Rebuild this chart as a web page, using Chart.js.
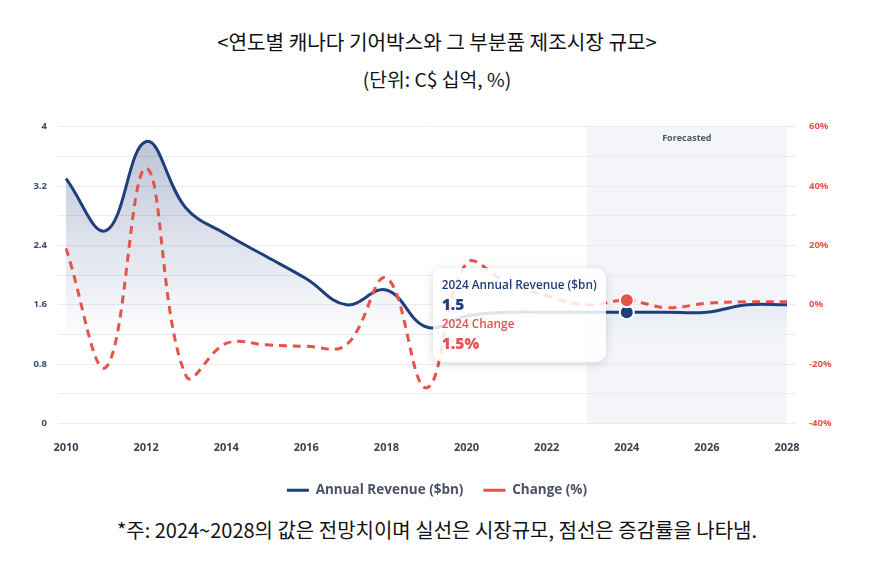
<!DOCTYPE html>
<html>
<head>
<meta charset="utf-8">
<script src="https://cdn.jsdelivr.net/npm/chart.js@4.4.1/dist/chart.umd.min.js"></script>
<style>
  body { margin: 0; background: #fff; width: 874px; height: 571px; overflow: hidden; position: relative; }
  .txt { position: absolute; left: 0; width: 874px; text-align: center; font-family: "Noto Sans CJK KR", sans-serif; color: #111; line-height: 24px; }
  #wrap { position: absolute; left: 0; top: 107px; width: 874px; height: 404px; }
  #tip { position: absolute; display: none; width: 173px; height: 94px; box-sizing: border-box; padding: 7px 0 0 9px;
         background: rgba(255,255,255,0.86); border-radius: 10px; box-shadow: 0 2px 10px rgba(40,50,80,0.18);
         font-family: "Open Sans", sans-serif; font-weight: 600; white-space: nowrap; }
  #tip div { line-height: 19.5px; }
  #tip .lab { font-size: 11.8px; }
  #tip .val { font-size: 15.5px; font-weight: 800; }
</style>
</head>
<body>
<div class="txt" style="top:30px;font-size:20.2px">&lt;연도별 캐나다 기어박스와 그 부분품 제조시장 규모&gt;</div>
<div class="txt" style="top:67px;font-size:19.3px">(단위: C$ 십억, %)</div>
<div id="wrap"><canvas id="grafica" width="874" height="404"></canvas><div id="tip"></div></div>
<div class="txt" style="top:518px;font-size:20px">*주: 2024~2028의 값은 전망치이며 실선은 시장규모, 점선은 증감률을 나타냄.</div>

<script>
"use strict"

// datos
const anios = ["2010", "2011", "2012", "2013", "2014", "2015", "2016", "2017", "2018", "2019",
    "2020", "2021", "2022", "2023", "2024", "2025", "2026", "2027", "2028"];
const ingresos = [3.3, 2.6, 3.8, 2.9, 2.55, 2.25, 1.95, 1.6, 1.8, 1.3,
    1.45, 1.5, 1.5, 1.5, 1.5, 1.5, 1.5, 1.6, 1.6];
const cambio = [19, -21, 46, -24, -13, -13.5, -14, -13.5, 9, -28,
    14, 7.5, 3, 0, 1.5, -1, 0.5, 1, 1];
const inicioPronostico = "2023";
const finPronostico = "2028";
const anioActivo = "2024";

const azul = "#1f3e7c";
const rojo = "#e5534b";
const fuente = "'Open Sans', sans-serif";

const zonaPronostico = {
    id: "zonaPronostico",
    beforeDraw(chart) {
        let ctx = chart.ctx;
        let area = chart.chartArea;
        let x1 = chart.scales.x.getPixelForValue(anios.indexOf(inicioPronostico));
        let x2 = chart.scales.x.getPixelForValue(anios.indexOf(finPronostico));
        ctx.save();
        ctx.fillStyle = "#f3f5f9";
        ctx.fillRect(x1, area.top, x2 - x1, area.bottom - area.top);
        ctx.fillStyle = "#4f566a";
        ctx.font = "bold 9px " + fuente;
        ctx.textAlign = "center";
        ctx.textBaseline = "middle";
        ctx.fillText("Forecasted", (x1 + x2) / 2, area.top + 12);
        ctx.restore();
    }
};

function tooltipExterno(context) {
    let tip = document.getElementById("tip");
    let model = context.tooltip;
    if (model.opacity === 0 || !model.dataPoints || !model.dataPoints.length) {
        tip.style.display = "none";
        return;
    }
    let html = "";
    model.dataPoints.slice().sort((a, b) => a.datasetIndex - b.datasetIndex).forEach(p => {
        let color = p.datasetIndex === 0 ? azul : rojo;
        let valor = p.datasetIndex === 0 ? p.raw : p.raw + "%";
        let nombre = p.datasetIndex === 0 ? "Annual Revenue ($bn)" : "Change";
        html += '<div class="lab" style="color:' + color + '">' + p.label + " " + nombre + "</div>";
        html += '<div class="val" style="color:' + color + '">' + valor + "</div>";
    });
    tip.innerHTML = html;
    tip.style.display = "block";
    let yRev = context.chart.scales.y.getPixelForValue(model.dataPoints.find(p => p.datasetIndex === 0).raw);
    tip.style.left = (model.caretX - 21 - 173) + "px";
    tip.style.top = (yRev + 3 - 47) + "px";
}

let ctx = document.getElementById("grafica").getContext("2d");

let grafica = new Chart(ctx, {
    type: "line",
    data: {
        labels: anios,
        datasets: [{
            label: "Annual Revenue ($bn)",
            data: ingresos,
            yAxisID: "y",
            borderColor: azul,
            borderWidth: 3,
            tension: 0.4,
            fill: "origin",
            order: 1,
            backgroundColor: function (c) {
                let area = c.chart.chartArea;
                if (!area) return "rgba(31,62,124,0.15)";
                let g = c.chart.ctx.createLinearGradient(0, area.top, 0, area.bottom);
                g.addColorStop(0, "rgba(31,62,124,0.32)");
                g.addColorStop(0.72, "rgba(31,62,124,0)");
                return g;
            },
            pointRadius: 0,
            pointHoverRadius: 7,
            pointHoverBackgroundColor: azul,
            pointHoverBorderColor: "#fff",
            pointHoverBorderWidth: 2
        }, {
            label: "Change (%)",
            data: cambio,
            yAxisID: "y2",
            borderColor: rojo,
            backgroundColor: rojo,
            borderWidth: 3,
            borderDash: [8, 6],
            tension: 0.4,
            fill: false,
            order: 0,
            pointRadius: 0,
            pointHoverRadius: 7,
            pointHoverBackgroundColor: rojo,
            pointHoverBorderColor: "#fff",
            pointHoverBorderWidth: 2
        }]
    },
    options: {
        responsive: false,
        animation: false,
        events: [],
        layout: { padding: { top: 12, bottom: 4, left: 0, right: 0 } },
        scales: {
            x: {
                grid: { display: false, drawTicks: false },
                border: { display: false },
                afterFit: s => { s.height = 40; },
                ticks: {
                    autoSkip: false,
                    maxRotation: 0,
                    padding: 18,
                    color: "#3a4152",
                    font: { family: fuente, size: 11, weight: "bold" },
                    callback: function (v, i) { return Number(anios[i]) % 2 === 0 ? anios[i] : ""; }
                }
            },
            y: {
                position: "left",
                min: 0,
                max: 4,
                afterFit: s => { s.width = 66; },
                grid: { color: "#ececef", tickLength: 8 },
                border: { display: false },
                ticks: {
                    stepSize: 0.4,
                    padding: 11,
                    color: "#3b4a75",
                    font: { family: fuente, size: 9.5, weight: "bold" },
                    callback: function (v, i) { return i % 2 === 0 ? String(Math.round(v * 10) / 10) : ""; }
                }
            },
            y2: {
                position: "right",
                min: -40,
                max: 60,
                afterFit: s => { s.width = 87; },
                grid: { drawOnChartArea: false, color: "#ececef", tickLength: 8 },
                border: { display: false },
                ticks: {
                    stepSize: 10,
                    padding: 14,
                    color: rojo,
                    font: { family: fuente, size: 9.5, weight: "bold" },
                    callback: function (v) { return Math.round(v) % 20 === 0 ? Math.round(v) + "%" : ""; }
                }
            }
        },
        plugins: {
            legend: {
                position: "bottom",
                labels: {
                    usePointStyle: true,
                    pointStyle: "line",
                    pointStyleWidth: 22,
                    padding: 20,
                    color: "#4a5068",
                    font: { family: fuente, size: 13.5, weight: "bold" },
                    sort: (a, b) => a.datasetIndex - b.datasetIndex
                }
            },
            tooltip: {
                enabled: false,
                external: tooltipExterno
            }
        }
    },
    plugins: [zonaPronostico]
});

let idx = anios.indexOf(anioActivo);
let activos = [{ datasetIndex: 0, index: idx }, { datasetIndex: 1, index: idx }];
grafica.setActiveElements(activos);
grafica.tooltip.setActiveElements(activos, { x: 0, y: 0 });
grafica.update();
</script>
</body>
</html>
